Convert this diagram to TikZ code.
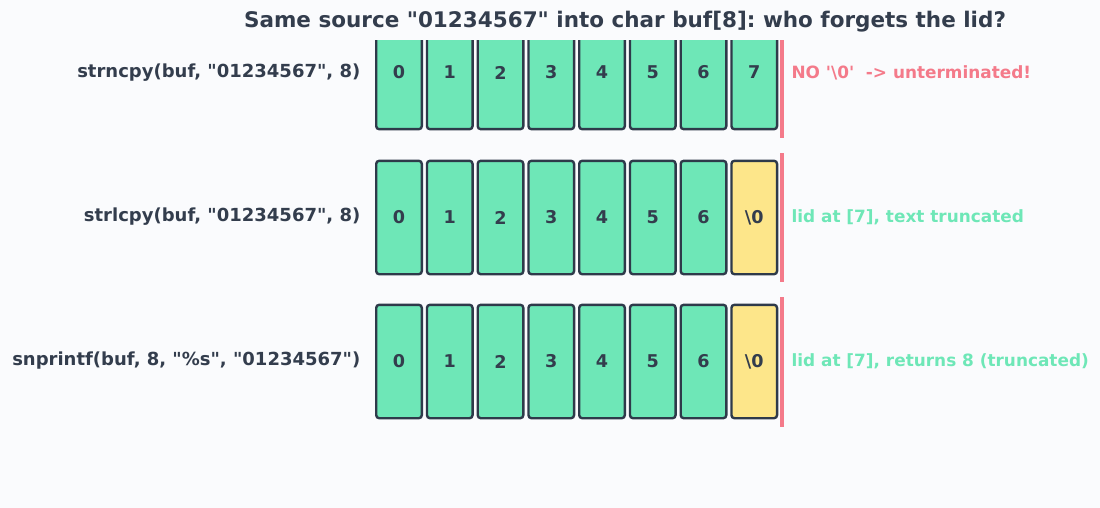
\documentclass[tikz,border=0pt]{standalone}
\usepackage{fontspec}
\setmainfont{DejaVu Sans}[Ligatures=TeXOff]
\frenchspacing
\definecolor{bgc}{HTML}{FAFBFD}
\definecolor{textc}{HTML}{333D4D}
\definecolor{edgec}{HTML}{2E3A4A}
\definecolor{cellgreen}{HTML}{6EE7B7}
\definecolor{lidyellow}{HTML}{FDE68A}
\definecolor{wallred}{HTML}{F47A8A}
\begin{document}
\begin{tikzpicture}[x=1pt, y=-1pt,
    cell/.style={draw=edgec, line width=2.4pt, rounded corners=3pt, fill=cellgreen,
      minimum width=45.6pt, minimum height=113.4pt, inner sep=0pt, text=textc,
      font=\fontsize{17.6}{20}\selectfont\bfseries},
    lid/.style={cell, fill=lidyellow},
    call/.style={anchor=east, text=textc, font=\fontsize{18}{20}\selectfont\bfseries},
    note/.style={anchor=west, font=\fontsize{16.9}{20}\selectfont\bfseries},
    wall/.style={draw=wallred, line width=4pt}]
    % Page background and size
    \fill[bgc] (0,0) rectangle (1100,508);
    \useasboundingbox (0,0) rectangle (1100,508);
    % Title
    \node[text=textc, font=\fontsize{21.5}{24}\selectfont\bfseries] (title) at (625,22)
      {Same source "01234567" into char buf[8]: who forgets the lid?};
    \begin{scope}
        \clip (0,41) rectangle (1100,508);
        % strncpy: all eight cells filled
        \foreach \i in {0,...,7}
            \node[cell] (a\i) at (399+50.75*\i,72.5) {\i};
        \coordinate (wa1) at (782,8);
        \coordinate (wa2) at (782,138);
        \draw[wall] (wa1) -- (wa2);
    \end{scope}
    % strlcpy: lid at index 7
    \foreach \i in {0,...,6}
        \node[cell] (b\i) at (399+50.75*\i,217.5) {\i};
    \node[lid] (b7) at (399+50.75*7,217.5) {\textbackslash0};
    \coordinate (wb1) at (782,153);
    \coordinate (wb2) at (782,282);
    \draw[wall] (wb1) -- (wb2);
    % snprintf: lid at index 7
    \foreach \i in {0,...,6}
        \node[cell] (c\i) at (399+50.75*\i,361.5) {\i};
    \node[lid] (c7) at (399+50.75*7,361.5) {\textbackslash0};
    \coordinate (wc1) at (782,297);
    \coordinate (wc2) at (782,427);
    \draw[wall] (wc1) -- (wc2);
    % Calls on the left
    \node[call] (la) at (363.8,73) {strncpy(buf, "01234567", 8)};
    \node[call] (lb) at (363.8,217) {strlcpy(buf, "01234567", 8)};
    \node[call] (lc) at (363.8,361) {snprintf(buf, 8, "\%s", "01234567")};
    % Outcomes on the right
    \node[note, text=wallred] (na) at (788,73) {NO '\textbackslash0'\ \ -> unterminated!};
    \node[note, text=cellgreen] (nb) at (788,217) {lid at [7], text truncated};
    \node[note, text=cellgreen] (nc) at (788,361) {lid at [7], returns 8 (truncated)};
\end{tikzpicture}
\end{document}
